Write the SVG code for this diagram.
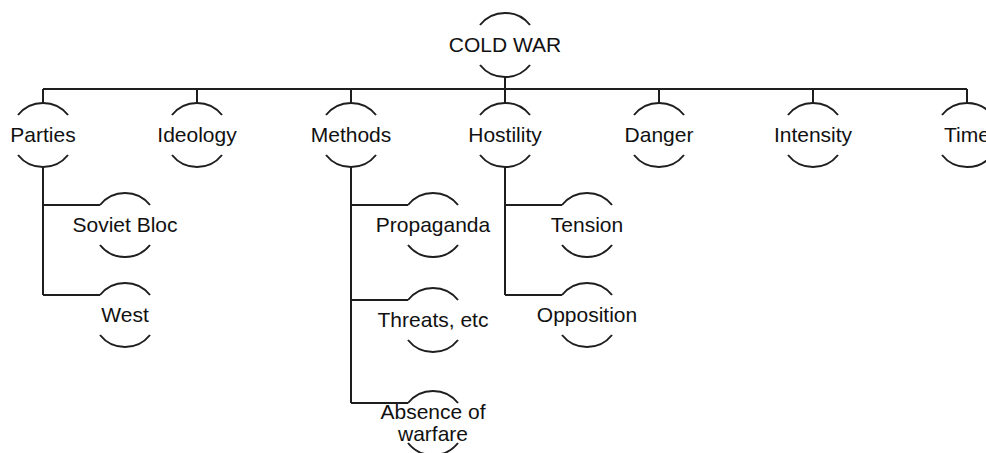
<svg xmlns="http://www.w3.org/2000/svg" xmlns:xlink="http://www.w3.org/1999/xlink" width="986" height="453" viewBox="0 0 986 453">
<style>
.arc{fill:none;stroke:#1e1e1e;stroke-width:2}
.ln{fill:none;stroke:#1e1e1e;stroke-width:2}
text{font-family:"Liberation Sans",Arial,sans-serif;font-size:21px;fill:#111;text-anchor:middle}
</style>
<defs>
<g id="brk">
<path class="arc" d="M-25,-20 A32,32 0 0 1 25,-20"/>
<path class="arc" d="M-25,20 A32,32 0 0 0 25,20"/>
</g>
</defs>
<rect width="986" height="453" fill="#fff"/>
<g id="connectors">
<path class="ln" d="M505,77 V89 M43,89 H967 M505,89 V103 M43,89 V103 M197,89 V103 M351,89 V103 M659,89 V103 M813,89 V103 M967,89 V103"/>
<path class="ln" d="M43,167 V295 M43,205 H100 M43,295 H100"/>
<path class="ln" d="M351,167 V403 M351,205 H408 M351,300 H408 M351,403 H408"/>
<path class="ln" d="M505,167 V295 M505,205 H562 M505,295 H562"/>
</g>
<g id="n-coldwar"><use xlink:href="#brk" x="505" y="45"/><text x="505" y="52">COLD WAR</text></g>
<g id="n-parties"><use xlink:href="#brk" x="43" y="135"/><text x="43" y="142">Parties</text></g>
<g id="n-ideology"><use xlink:href="#brk" x="197" y="135"/><text x="197" y="142">Ideology</text></g>
<g id="n-methods"><use xlink:href="#brk" x="351" y="135"/><text x="351" y="142">Methods</text></g>
<g id="n-hostility"><use xlink:href="#brk" x="505" y="135"/><text x="505" y="142">Hostility</text></g>
<g id="n-danger"><use xlink:href="#brk" x="659" y="135"/><text x="659" y="142">Danger</text></g>
<g id="n-intensity"><use xlink:href="#brk" x="813" y="135"/><text x="813" y="142">Intensity</text></g>
<g id="n-time"><use xlink:href="#brk" x="967" y="135"/><text x="967" y="142">Time</text></g>
<g id="n-soviet"><use xlink:href="#brk" x="125" y="225"/><text x="125" y="232">Soviet Bloc</text></g>
<g id="n-west"><use xlink:href="#brk" x="125" y="315"/><text x="125" y="322">West</text></g>
<g id="n-propaganda"><use xlink:href="#brk" x="433" y="225"/><text x="433" y="232">Propaganda</text></g>
<g id="n-threats"><use xlink:href="#brk" x="433" y="320"/><text x="433" y="327">Threats, etc</text></g>
<g id="n-absence"><use xlink:href="#brk" x="433" y="423"/><text x="433" y="419">Absence of</text><text x="433" y="441">warfare</text></g>
<g id="n-tension"><use xlink:href="#brk" x="587" y="225"/><text x="587" y="232">Tension</text></g>
<g id="n-opposition"><use xlink:href="#brk" x="587" y="315"/><text x="587" y="322">Opposition</text></g>
</svg>
